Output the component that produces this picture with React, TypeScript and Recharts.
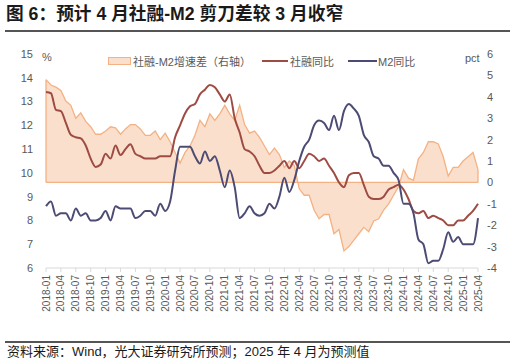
import React from "react";
import { ComposedChart, Area, Line, XAxis, YAxis, ReferenceLine } from "recharts";

const months: string[] = [
  "2018-01","2018-02","2018-03","2018-04","2018-05","2018-06","2018-07","2018-08","2018-09","2018-10","2018-11","2018-12",
  "2019-01","2019-02","2019-03","2019-04","2019-05","2019-06","2019-07","2019-08","2019-09","2019-10","2019-11","2019-12",
  "2020-01","2020-02","2020-03","2020-04","2020-05","2020-06","2020-07","2020-08","2020-09","2020-10","2020-11","2020-12",
  "2021-01","2021-02","2021-03","2021-04","2021-05","2021-06","2021-07","2021-08","2021-09","2021-10","2021-11","2021-12",
  "2022-01","2022-02","2022-03","2022-04","2022-05","2022-06","2022-07","2022-08","2022-09","2022-10","2022-11","2022-12",
  "2023-01","2023-02","2023-03","2023-04","2023-05","2023-06","2023-07","2023-08","2023-09","2023-10","2023-11","2023-12",
  "2024-01","2024-02","2024-03","2024-04","2024-05","2024-06","2024-07","2024-08","2024-09","2024-10","2024-11","2024-12",
  "2025-01","2025-02","2025-03","2025-04",
];

// 社融同比 (%)
const tsfYoy: number[] = [
  13.4, 13.35, 12.65, 12.6, 12.1, 11.6, 11.5, 11.45, 11.15, 10.6, 10.25, 10.35,
  10.8, 10.6, 11.15, 10.75, 11.0, 11.2, 10.8, 10.7, 10.6, 10.6, 10.6, 10.7,
  10.7, 10.7, 11.5, 12.0, 12.5, 12.8, 12.9, 13.3, 13.5, 13.7, 13.6, 13.3,
  13.0, 13.3, 12.3, 11.7, 11.0, 10.9, 10.7, 10.3, 10.0, 10.0, 10.1, 10.3,
  10.5, 10.2, 10.5, 10.2, 10.5, 10.8, 10.7, 10.5, 10.6, 10.3, 10.0, 9.6,
  9.4, 9.9, 10.0, 10.0, 9.5, 9.0, 8.9, 8.9, 9.0, 9.3, 9.4, 9.5,
  9.3, 8.9, 8.4, 8.3, 8.4, 8.1, 8.2, 8.1, 8.0, 7.8, 7.8, 8.0,
  8.0, 8.2, 8.4, 8.7,
];

// M2同比 (%)
const m2Yoy: number[] = [
  8.6, 8.8, 8.2, 8.3, 8.3, 8.0, 8.5, 8.2, 8.3, 8.0, 8.0, 8.1,
  8.4, 8.0, 8.6, 8.5, 8.5, 8.5, 8.1, 8.2, 8.4, 8.4, 8.2, 8.7,
  8.4, 8.8, 10.1, 11.1, 11.1, 11.1, 10.7, 10.4, 10.9, 10.5, 10.7, 10.1,
  9.4, 10.1, 9.4, 8.1, 8.3, 8.6, 8.3, 8.2, 8.3, 8.7, 8.5, 9.0,
  9.8, 9.2, 9.7, 10.5, 11.1, 11.4, 12.0, 12.2, 12.1, 11.8, 12.4, 11.8,
  12.6, 12.9, 12.7, 12.4, 11.6, 11.3, 10.7, 10.6, 10.3, 10.3, 10.0, 9.7,
  8.7, 8.7, 8.3, 7.2, 7.0, 6.2, 6.3, 6.3, 6.8, 7.5, 7.1, 7.3,
  7.0, 7.0, 7.0, 8.1,
];

// 社融-M2增速差 (pct, right axis)
const spread: number[] = [
  4.8, 4.55, 4.45, 4.3, 3.8, 3.6, 3.0, 3.25, 2.85, 2.6, 2.25, 2.25,
  2.4, 2.6, 2.55, 2.25, 2.5, 2.7, 2.7, 2.5, 2.2, 2.2, 2.4, 2.0,
  2.3, 1.9, 1.4, 0.9, 1.4, 1.7, 2.2, 2.9, 2.6, 3.2, 2.9, 3.2,
  3.6, 3.2, 2.9, 3.6, 2.7, 2.3, 2.4, 2.1, 1.7, 1.3, 1.6, 1.3,
  0.7, 1.0, 0.8, -0.3, -0.6, -0.6, -1.3, -1.7, -1.5, -1.5, -2.4, -2.2,
  -3.2, -3.0, -2.7, -2.4, -2.1, -2.3, -1.8, -1.7, -1.3, -1.0, -0.6, -0.2,
  0.6, 0.2, 0.1, 1.1, 1.4, 1.9, 1.9, 1.8, 1.2, 0.3, 0.7, 0.7,
  1.0, 1.2, 1.4, 0.6,
];

const leftTicks: number[] = [6, 7, 8, 9, 10, 11, 12, 13, 14, 15];
const rightTicks: number[] = [-4, -3, -2, -1, 0, 1, 2, 3, 4, 5, 6];

const data = months.map((m, i) => ({ month: m, tsf: tsfYoy[i], m2: m2Yoy[i], spread: spread[i] }));

const FONT = '"Liberation Sans", Arial, "Noto Sans CJK SC", sans-serif';
const CJK = '"Liberation Sans", Arial, "Noto Sans CJK SC", sans-serif';
const GRAY = "#595959";
const ORANGE = "#F4B183";
const FILL = "#FADFCD";
const RED = "#9E4B43";
const BLUE = "#4C4B74";

const XTick = (props: any) => {
  const { x, y, payload } = props;
  return (
    <text
      x={x}
      y={y}
      transform={`rotate(-90 ${x} ${y})`}
      textAnchor="end"
      dy="0.35em"
      fontSize={10}
      fontFamily={FONT}
      fill={GRAY}
    >
      {payload.value}
    </text>
  );
};

export default function App() {
  const first = months[0];
  const last = months[months.length - 1];
  return (
    <div style={{ position: "absolute", left: 0, top: 0, width: 516, height: 364, background: "#fff", overflow: "hidden" }}>
      <div
        style={{
          position: "absolute", left: 6, top: 4, fontSize: 17.7, fontWeight: "bold",
          fontFamily: CJK, color: "#1a1a1a", whiteSpace: "nowrap", lineHeight: "20px",
        }}
      >
        图 6：预计 4 月社融-M2 剪刀差较 3 月收窄
      </div>
      <div style={{ position: "absolute", left: 5, top: 30, width: 505, height: 2, background: "#555" }} />

      <div style={{ position: "absolute", left: 0, top: 0 }}>
        <ComposedChart width={516} height={364} data={data} margin={{ top: 54, right: 6, bottom: 46, left: 6 }}>
          <XAxis
            dataKey="month"
            scale="point"
            padding={{ left: 0, right: 0 }}
            interval={2}
            tick={<XTick />}
            tickSize={4}
            tickMargin={3}
            height={50}
            stroke="#D9D9D9"
            tickLine={{ stroke: "#D9D9D9" }}
          />
          <YAxis
            yAxisId="left"
            domain={[6, 15]}
            ticks={leftTicks}
            width={40}
            axisLine={false}
            tickLine={false}
            tickMargin={7}
            tick={{ fontSize: 11, fill: GRAY, fontFamily: FONT }}
            interval={0}
          />
          <YAxis
            yAxisId="right"
            orientation="right"
            domain={[-4, 6]}
            ticks={rightTicks}
            width={32}
            axisLine={false}
            tickLine={false}
            tickMargin={3}
            tick={{ fontSize: 11, fill: GRAY, fontFamily: FONT, textAnchor: "start" }}
            interval={0}
          />
          <Area
            yAxisId="right"
            dataKey="spread"
            type="linear"
            baseValue={0}
            stroke={ORANGE}
            strokeWidth={1.3}
            fill={FILL}
            fillOpacity={1}
            isAnimationActive={false}
            dot={false}
            activeDot={false}
          />
          <ReferenceLine yAxisId="right" y={0} stroke={ORANGE} strokeWidth={1.3} />
          <ReferenceLine
            yAxisId="right"
            segment={[{ x: first, y: 0 }, { x: first, y: spread[0] }]}
            stroke={ORANGE}
            strokeWidth={1.3}
          />
          <ReferenceLine
            yAxisId="right"
            segment={[{ x: last, y: 0 }, { x: last, y: spread[spread.length - 1] }]}
            stroke={ORANGE}
            strokeWidth={1.3}
          />
          <Line
            yAxisId="left"
            dataKey="tsf"
            type="monotone"
            stroke={RED}
            strokeWidth={2}
            dot={false}
            activeDot={false}
            isAnimationActive={false}
          />
          <Line
            yAxisId="left"
            dataKey="m2"
            type="monotone"
            stroke={BLUE}
            strokeWidth={2}
            dot={false}
            activeDot={false}
            isAnimationActive={false}
          />
        </ComposedChart>
      </div>

      {/* axis units */}
      <div style={{ position: "absolute", left: 42, top: 51, fontSize: 11, color: GRAY, fontFamily: FONT }}>%</div>
      <div style={{ position: "absolute", left: 465, top: 52, fontSize: 11, color: GRAY, fontFamily: FONT }}>pct</div>

      {/* legend */}
      <div style={{ position: "absolute", left: 108, top: 57, width: 21, height: 6, background: FILL, border: `1px solid ${ORANGE}` }} />
      <div style={{ position: "absolute", left: 133, top: 53, fontSize: 11, color: GRAY, fontFamily: CJK, whiteSpace: "nowrap" }}>
        社融-M2增速差（右轴）
      </div>
      <div style={{ position: "absolute", left: 262, top: 60, width: 26, height: 2, background: RED }} />
      <div style={{ position: "absolute", left: 290, top: 53, fontSize: 11, color: GRAY, fontFamily: CJK, whiteSpace: "nowrap" }}>
        社融同比
      </div>
      <div style={{ position: "absolute", left: 348, top: 60, width: 29, height: 2, background: BLUE }} />
      <div style={{ position: "absolute", left: 378, top: 53, fontSize: 11, color: GRAY, fontFamily: CJK, whiteSpace: "nowrap" }}>
        M2同比
      </div>

      {/* footer */}
      <div style={{ position: "absolute", left: 5, top: 341, width: 505, height: 1.5, background: "#555" }} />
      <div
        style={{
          position: "absolute", left: 7, top: 344, fontSize: 13, fontFamily: CJK, color: "#1a1a1a",
          whiteSpace: "nowrap", lineHeight: "16px",
        }}
      >
        资料来源：Wind，光大证券研究所预测；2025 年 4 月为预测值
      </div>
    </div>
  );
}
